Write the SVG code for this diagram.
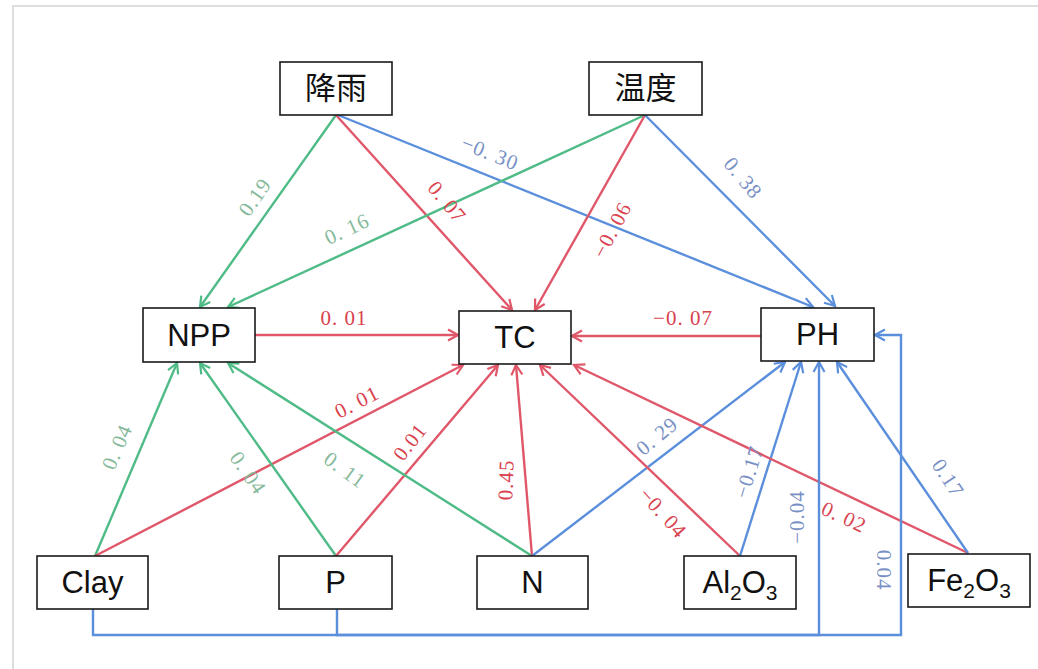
<svg xmlns="http://www.w3.org/2000/svg" width="1038" height="669" viewBox="0 0 1038 669">
<style>
.box{fill:#fff;stroke:#1a1a1a;stroke-width:1.6}
.nt{font-family:"Liberation Sans",Arial,sans-serif;font-size:31px;fill:#111;text-anchor:middle}
.cjk{font-family:"Noto Sans CJK SC","Noto Sans",sans-serif;font-size:31px;fill:#111;text-anchor:middle}
.e{fill:none;stroke-width:2.4}
.g{stroke:#4fbb87}
.r{stroke:#e0576a}
.b{stroke:#5b8fdc}
.lb{font-family:"Liberation Serif","DejaVu Serif",serif;font-size:21px;text-anchor:middle;dominant-baseline:central;letter-spacing:1px}
.lg{fill:#86b99b}
.lr{fill:#d9424f}
.lbl{fill:#7890c4}
</style>
<defs>
<marker id="ag" markerUnits="userSpaceOnUse" markerWidth="14" markerHeight="14" viewBox="0 0 14 14" refX="12" refY="7" orient="auto"><path d="M2,1.5 L12,7 L2,12.5" fill="none" stroke="#4fbb87" stroke-width="2.2"/></marker>
<marker id="ar" markerUnits="userSpaceOnUse" markerWidth="14" markerHeight="14" viewBox="0 0 14 14" refX="12" refY="7" orient="auto"><path d="M2,1.5 L12,7 L2,12.5" fill="none" stroke="#e0576a" stroke-width="2.2"/></marker>
<marker id="ab" markerUnits="userSpaceOnUse" markerWidth="14" markerHeight="14" viewBox="0 0 14 14" refX="12" refY="7" orient="auto"><path d="M2,1.5 L12,7 L2,12.5" fill="none" stroke="#5b8fdc" stroke-width="2.2"/></marker>
</defs>
<rect width="1038" height="669" fill="#fff"/>
<path d="M13,669 V6 H1038" fill="none" stroke="#dedede" stroke-width="2"/>

<g id="connectors">
<line class="e g" x1="336" y1="115" x2="200" y2="307" marker-end="url(#ag)"/>
<line class="e r" x1="336" y1="115" x2="512" y2="310" marker-end="url(#ar)"/>
<line class="e b" x1="338" y1="115" x2="813" y2="307" marker-end="url(#ab)"/>
<line class="e g" x1="645" y1="115" x2="228" y2="307" marker-end="url(#ag)"/>
<line class="e r" x1="645" y1="115" x2="535" y2="310" marker-end="url(#ar)"/>
<line class="e b" x1="645" y1="115" x2="835" y2="306" marker-end="url(#ab)"/>
<line class="e r" x1="255" y1="335" x2="458" y2="335" marker-end="url(#ar)"/>
<line class="e r" x1="761" y1="336" x2="572" y2="336" marker-end="url(#ar)"/>
<line class="e g" x1="95" y1="556" x2="177" y2="363" marker-end="url(#ag)"/>
<line class="e r" x1="95" y1="556" x2="463" y2="365" marker-end="url(#ar)"/>
<line class="e g" x1="336" y1="556" x2="200" y2="363" marker-end="url(#ag)"/>
<line class="e r" x1="336" y1="556" x2="498" y2="365" marker-end="url(#ar)"/>
<line class="e g" x1="532" y1="556" x2="228" y2="363" marker-end="url(#ag)"/>
<line class="e r" x1="532" y1="556" x2="516" y2="365" marker-end="url(#ar)"/>
<line class="e b" x1="532" y1="556" x2="785" y2="362" marker-end="url(#ab)"/>
<line class="e r" x1="740" y1="556" x2="540" y2="365" marker-end="url(#ar)"/>
<line class="e b" x1="740" y1="556" x2="801" y2="362" marker-end="url(#ab)"/>
<line class="e r" x1="968" y1="553" x2="574" y2="365" marker-end="url(#ar)"/>
<line class="e b" x1="968" y1="553" x2="837" y2="362" marker-end="url(#ab)"/>
<polyline class="e b" points="93,609 93,635 819,635 819,362" marker-end="url(#ab)"/>
<polyline class="e b" points="337,609 337,635 901,635 901,335 875,335" marker-end="url(#ab)"/>

<text class="lb lg" transform="translate(255,197) rotate(-55)">0.19</text>
<text class="lb lr" transform="translate(447,202) rotate(50)">0. 07</text>
<text class="lb lbl" transform="translate(490,153) rotate(22)">−0. 30</text>
<text class="lb lg" transform="translate(347,229) rotate(-25)">0. 16</text>
<text class="lb lr" transform="translate(612,230) rotate(-62)">−0. 06</text>
<text class="lb lbl" transform="translate(743,178) rotate(50)">0. 38</text>
<text class="lb lr" transform="translate(344,318)">0. 01</text>
<text class="lb lr" transform="translate(683,318)">−0. 07</text>
<text class="lb lg" transform="translate(117,447) rotate(-67)">0. 04</text>
<text class="lb lr" transform="translate(357,402) rotate(-27)">0. 01</text>
<text class="lb lg" transform="translate(248,473) rotate(55)">0. 04</text>
<text class="lb lr" transform="translate(410,442) rotate(-52)">0.01</text>
<text class="lb lg" transform="translate(345,470) rotate(36)">0. 11</text>
<text class="lb lr" transform="translate(506,480) rotate(-88)">0.45</text>
<text class="lb lbl" transform="translate(657,436) rotate(-40)">0. 29</text>
<text class="lb lr" transform="translate(663,513) rotate(48)">−0. 04</text>
<text class="lb lbl" transform="translate(749,472) rotate(-73)">−0.17</text>
<text class="lb lr" transform="translate(844,517) rotate(25)">0. 02</text>
<text class="lb lbl" transform="translate(948,478) rotate(57)">0.17</text>
<text class="lb lbl" transform="translate(797,517) rotate(-90)">−0.04</text>
<text class="lb lbl" transform="translate(884,570) rotate(90)">0.04</text>
</g>

<g id="rain"><rect class="box" x="280" y="62" width="112" height="53"/><text class="cjk" x="336" y="99">降雨</text></g>
<g id="temp"><rect class="box" x="589" y="62" width="113" height="53"/><text class="cjk" x="645.5" y="99">温度</text></g>
<g id="npp"><rect class="box" x="143" y="308" width="112" height="54"/><text class="nt" x="199" y="346">NPP</text></g>
<g id="tc"><rect class="box" x="459" y="311" width="112" height="53"/><text class="nt" x="515" y="348">TC</text></g>
<g id="ph"><rect class="box" x="761" y="308" width="113" height="53"/><text class="nt" x="817.5" y="345">PH</text></g>
<g id="clay"><rect class="box" x="37" y="556" width="111" height="53"/><text class="nt" x="92.5" y="593">Clay</text></g>
<g id="p"><rect class="box" x="279" y="556" width="113" height="53"/><text class="nt" x="335.5" y="593">P</text></g>
<g id="n"><rect class="box" x="477" y="556" width="111" height="53"/><text class="nt" x="532.5" y="593">N</text></g>
<g id="al2o3"><rect class="box" x="684" y="556" width="112" height="53"/><text class="nt" x="740" y="593">Al<tspan font-size="21" dy="7">2</tspan><tspan dy="-7">O</tspan><tspan font-size="21" dy="7">3</tspan></text></g>
<g id="fe2o3"><rect class="box" x="908" y="554" width="122" height="53"/><text class="nt" x="969" y="591">Fe<tspan font-size="21" dy="7">2</tspan><tspan dy="-7">O</tspan><tspan font-size="21" dy="7">3</tspan></text></g>
</svg>
